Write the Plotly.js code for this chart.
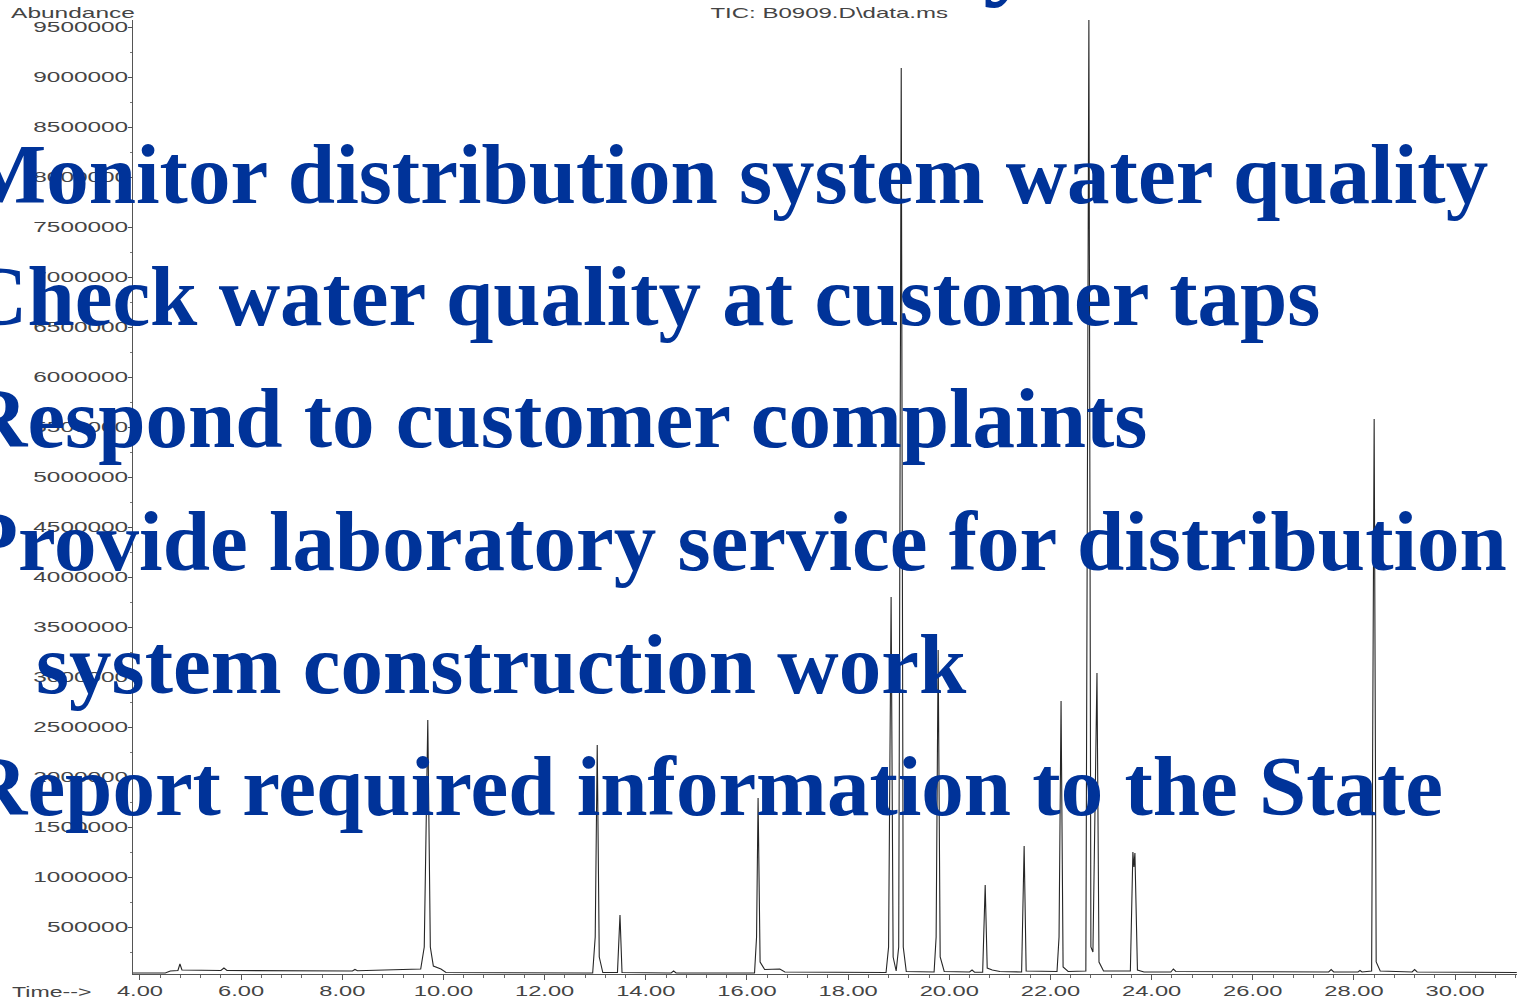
<!DOCTYPE html>
<html>
<head>
<meta charset="utf-8">
<script src="https://cdn.plot.ly/plotly-3.0.1.min.js"></script>
<style>
  html, body { margin: 0; padding: 0; background: #ffffff; }
  #chart { width: 1517px; height: 1000px; }
</style>
</head>
<body>
<div id="chart"></div>
<script>
// ---- Data (retention time in min, abundance) ----
const timeMin = [
  3.86, 4.50, 4.60, 4.75, 4.79, 4.83, 5.60, 5.66, 5.72, 8.20, 8.25, 8.30,
  9.55, 9.62, 9.69, 9.74, 9.80, 9.95, 10.05,
  12.95, 13.00, 13.04, 13.08, 13.15, 13.44, 13.49, 13.53,
  14.50, 14.55, 14.60,
  16.15, 16.19, 16.22, 16.26, 16.35, 16.65, 16.75,
  18.75, 18.80, 18.85, 18.89, 18.95, 19.00, 19.05, 19.09, 19.15,
  19.70, 19.74, 19.78, 19.82, 19.90,
  20.40, 20.45, 20.50, 20.66, 20.71, 20.75, 20.85, 21.00,
  21.43, 21.48, 21.52,
  22.13, 22.17, 22.21, 22.25, 22.35,
  22.70, 22.76, 22.80, 22.84, 22.92, 22.96, 23.05,
  23.58, 23.63, 23.65, 23.67, 23.72, 23.85,
  24.38, 24.43, 24.48,
  27.50, 27.55, 27.60, 28.08, 28.12, 28.16,
  28.35, 28.40, 28.44, 28.52,
  29.15, 29.20, 29.25, 31.22
];
const abundance = [
  40000, 40000, 60000, 65000, 130000, 70000, 65000, 90000, 65000, 60000, 75000, 62000,
  80000, 300000, 2570000, 300000, 110000, 80000, 45000,
  40000, 400000, 2320000, 200000, 45000, 45000, 620000, 45000,
  40000, 60000, 40000,
  40000, 400000, 1790000, 150000, 75000, 80000, 50000,
  45000, 300000, 3800000, 200000, 60000, 300000, 9090000, 300000, 55000,
  50000, 400000, 3270000, 200000, 55000,
  50000, 70000, 48000, 48000, 920000, 90000, 70000, 55000,
  50000, 1310000, 60000,
  55000, 400000, 2760000, 100000, 55000,
  60000, 9600000, 300000, 250000, 3040000, 150000, 60000,
  60000, 1250000, 1100000, 1240000, 70000, 50000,
  50000, 80000, 55000,
  50000, 75000, 50000, 50000, 65000, 50000,
  60000, 5580000, 150000, 60000,
  50000, 75000, 50000, 45000
];
const xTickValues = [4, 6, 8, 10, 12, 14, 16, 18, 20, 22, 24, 26, 28, 30];
const xTickLabels = ['4.00', '6.00', '8.00', '10.00', '12.00', '14.00', '16.00',
                     '18.00', '20.00', '22.00', '24.00', '26.00', '28.00', '30.00'];
const chartTitle = 'TIC: B0909.D\\data.ms';
const yLabel = 'Abundance';
const xLabel = 'Time-->';
const slideLines = [
  'Monitor distribution system water quality',
  'Check water quality at customer taps',
  'Respond to customer complaints',
  'Provide laboratory service for distribution',
  'system construction work',
  'Report required information to the State'
];

// ---- Layout helpers (pixel -> paper) ----
const L = 133, T = 20, W = 1384, H = 954;
const px = v => (v - L) / W;
const py = v => (T + H - v) / H;

const grayFont = { family: 'Liberation Sans, Arial, sans-serif', size: 15, color: '#444444' };
const blue = '#003399';
const bigFont = { family: 'Liberation Serif, Times New Roman, serif', size: 85, color: blue, weight: 'bold' };

const lineX = [-35, -35, -35, -35, 35, -35];
const lineCenterY = [174, 296, 418, 541, 664, 786];

const annotations = [
  { text: yLabel, xref: 'paper', yref: 'paper', x: px(73), y: py(12), xanchor: 'center', yanchor: 'middle', showarrow: false, font: grayFont, borderpad: 0 },
  { text: chartTitle, xref: 'paper', yref: 'paper', x: px(829), y: py(12), xanchor: 'center', yanchor: 'middle', showarrow: false, font: grayFont, borderpad: 0 },
  { text: xLabel, xref: 'paper', yref: 'paper', x: px(52), y: py(991), xanchor: 'center', yanchor: 'middle', showarrow: false, font: grayFont, borderpad: 0 },
  { text: 'y', xref: 'paper', yref: 'paper', x: px(1010), y: py(-52), xanchor: 'center', yanchor: 'middle', showarrow: false,
    font: { family: bigFont.family, size: 110, color: blue, weight: 'bold' }, borderpad: 0 }
];
slideLines.forEach((t, i) => {
  annotations.push({
    text: t, xref: 'paper', yref: 'paper', x: px(lineX[i]), y: py(lineCenterY[i]),
    xanchor: 'left', yanchor: 'middle', showarrow: false, font: bigFont, borderpad: 0
  });
});

const trace = {
  x: timeMin, y: abundance, type: 'scatter', mode: 'lines',
  line: { color: '#262626', width: 1.1 }, hoverinfo: 'skip'
};

const layout = {
  width: 1517, height: 1000,
  margin: { l: L, r: 0, t: T, b: 1000 - T - H, pad: 0 },
  paper_bgcolor: '#ffffff', plot_bgcolor: '#ffffff',
  showlegend: false,
  xaxis: {
    range: [3.862, 31.224], tickvals: xTickValues, ticktext: xTickLabels,
    showline: true, linecolor: '#555555', linewidth: 1,
    ticks: 'outside', ticklen: 5, tickcolor: '#555555', tickwidth: 1,
    minor: { dtick: 0.4, tick0: 4, ticks: 'outside', ticklen: 3, tickcolor: '#666666', showgrid: false },
    showgrid: false, zeroline: false, tickfont: grayFont, ticklabelstandoff: -2
  },
  yaxis: {
    range: [30000, 9570000], tick0: 0, dtick: 500000, tickformat: 'd',
    showline: true, linecolor: '#555555', linewidth: 1,
    ticks: 'outside', ticklen: 4, tickcolor: '#555555', tickwidth: 1,
    minor: { dtick: 250000, ticks: 'outside', ticklen: 2, tickcolor: '#777777', showgrid: false },
    showgrid: false, zeroline: false,
    tickfont: { family: grayFont.family, size: 14, color: '#444444' }, ticklabelstandoff: -3
  },
  annotations: annotations
};

function stretch(nodes, factor) {
  nodes.forEach(el => {
    try {
      const w = el.getComputedTextLength();
      if (w > 0) {
        el.setAttribute('textLength', (w * factor).toFixed(1));
        el.setAttribute('lengthAdjust', 'spacingAndGlyphs');
      }
    } catch (e) {}
  });
}

Plotly.newPlot('chart', [trace], layout, { staticPlot: true, displayModeBar: false }).then(gd => {
  stretch(Array.from(gd.querySelectorAll('.ytick text')), 1.74);
  stretch(Array.from(gd.querySelectorAll('.xtick text')), 1.58);
  const ann = gd.querySelectorAll('.annotation');
  const factors = [1.63, 1.6, 1.54];
  ann.forEach(a => {
    const idx = +a.getAttribute('data-index');
    if (idx < 3) stretch(Array.from(a.querySelectorAll('text')), factors[idx]);
  });
});
</script>
</body>
</html>
